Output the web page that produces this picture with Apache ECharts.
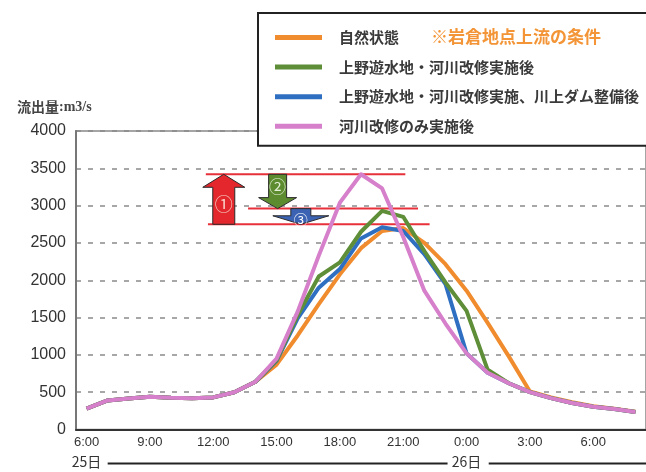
<!DOCTYPE html>
<html>
<head>
<meta charset="utf-8">
<script src="https://cdn.jsdelivr.net/npm/echarts@6/dist/echarts.min.js"></script>
<style>
  html, body { margin: 0; padding: 0; background: #fff; }
  #the-chart { width: 646px; height: 472px; }
</style>
</head>
<body>
<div id="the-chart"></div>
<script>
/**
 * 岩倉地点 流出量ハイドログラフ
 */
// 時刻（25日 6:00 〜 26日 8:00、1時間ごと）
const hours = [
  "6:00", "7:00", "8:00", "9:00", "10:00", "11:00", "12:00", "13:00", "14:00",
  "15:00", "16:00", "17:00", "18:00", "19:00", "20:00", "21:00", "22:00", "23:00",
  "0:00", "1:00", "2:00", "3:00", "4:00", "5:00", "6:00", "7:00", "8:00",
];

const seriesNames = [
  "自然状態",
  "上野遊水地・河川改修実施後",
  "上野遊水地・河川改修実施、川上ダム整備後",
  "河川改修のみ実施後",
];

// 自然状態
const natural = [
  280, 390, 415, 440, 425, 420, 430, 500, 640,
  870, 1260, 1680, 2080, 2430, 2660, 2700, 2500, 2215,
  1860, 1430, 980, 510, 430, 365, 312, 278, 237,
];
// 上野遊水地・河川改修実施後
const uenoRiver = [
  280, 390, 415, 440, 425, 420, 430, 500, 640,
  930, 1530, 2050, 2240, 2650, 2930, 2850, 2390, 1970,
  1590, 800, 620, 500, 420, 355, 305, 275, 235,
];
// 上野遊水地・河川改修実施、川上ダム整備後
const uenoRiverDam = [
  280, 390, 415, 440, 425, 420, 430, 500, 640,
  920, 1490, 1900, 2150, 2560, 2710, 2660, 2350, 1950,
  1020, 760, 620, 500, 420, 355, 305, 275, 235,
];
// 河川改修のみ実施後
const riverOnly = [
  280, 390, 415, 440, 425, 420, 430, 500, 640,
  950, 1580, 2330, 3040, 3420, 3230, 2580, 1860, 1420,
  1020, 760, 620, 500, 420, 355, 305, 275, 235,
];

// y軸目盛
const yMax = 4000;
const yStep = 500;

// ピーク流量の基準線（x は時間軸上の位置、0 = 左端）
const refLevels = [3420, 2960, 2750];
const refFrom = [6.15, 8.15, 6.25];
const refTo = [15.6, 16.2, 16.75];

// ①②③の矢印
const arrowX = [7.0, 9.55, 10.65];
const arrowFrom = [2750, 3420, 2960];
const arrowTo = [3420, 2960, 2750];
const arrowLabels = ["①", "②", "③"];

// 日付
const dayLabels = ["25日", "26日"];
const dayIndex = [0, 18];
const dayLineFrom = [1.5, 19.55];
const dayLineTo = [17.6, 27];

// 矢印の形（px）
const arrowShapes = [
  { color: "#e3272c", shaft: 22, headW: 42, head: 13, labelAt: 0.4, font: 18, text: "#f9d2c8" },
  { color: "#5d8b30", shaft: 18, headW: 38, head: 11, labelAt: 0.37, font: 17, text: "#e2efd5" },
  { color: "#3c63b3", shaft: 20, headW: 56, head: 8.5, labelAt: 0.68, font: 14, text: "#ffffff" },
];
const lineColors = ["#f08c2e", "#5e8e38", "#2f6fc2", "#d67fca"];

const jpFont = "'Noto Sans CJK JP', sans-serif";
const numFont = "'Liberation Sans', Arial, sans-serif";

let chartEL = document.getElementById("the-chart");
let myChart = echarts.init(chartEL);

function renderRefLine(params, api) {
  let p1 = api.coord([api.value(0), api.value(2)]);
  let p2 = api.coord([api.value(1), api.value(2)]);
  return {
    type: "line",
    shape: { x1: p1[0], y1: p1[1], x2: p2[0], y2: p2[1] },
    style: { stroke: "#e8303a", lineWidth: 2 },
  };
}

function renderArrow(params, api) {
  let s = arrowShapes[params.dataIndex];
  let tail = api.coord([api.value(0), api.value(1)]);
  let tip = api.coord([api.value(0), api.value(2)]);
  let cx = tail[0];
  // 上向きなら -1
  let dir = tip[1] < tail[1] ? -1 : 1;
  let baseY = tip[1] - dir * s.head;
  let points = [
    [cx - s.shaft / 2, tail[1]],
    [cx - s.shaft / 2, baseY],
    [cx - s.headW / 2, baseY],
    [cx, tip[1]],
    [cx + s.headW / 2, baseY],
    [cx + s.shaft / 2, baseY],
    [cx + s.shaft / 2, tail[1]],
  ];
  return {
    type: "group",
    children: [
      {
        type: "polygon",
        shape: { points: points },
        style: { fill: s.color, stroke: "#2b2b2b", lineWidth: 1 },
      },
      {
        type: "text",
        x: cx,
        y: tail[1] + (tip[1] - tail[1]) * s.labelAt,
        style: {
          text: arrowLabels[params.dataIndex],
          fill: s.text,
          font: s.font + "px " + jpFont,
          align: "center",
          verticalAlign: "middle",
        },
      },
    ],
  };
}

function renderDayLine(params, api) {
  let p1 = api.coord([api.value(0), 0]);
  let p2 = api.coord([api.value(1), 0]);
  let y = p1[1] + 34;
  return {
    type: "line",
    shape: { x1: p1[0], y1: y, x2: p2[0], y2: y },
    style: { stroke: "#222", lineWidth: 2 },
  };
}

let lineData = [natural, uenoRiver, uenoRiverDam, riverOnly];
// 描画順：橙 → 青 → 緑 → ピンク（ピンクが一番上）
let drawOrder = [0, 2, 1, 3];

let lineSeries = drawOrder.map((k) => ({
  name: seriesNames[k],
  type: "line",
  xAxisIndex: 0,
  yAxisIndex: 0,
  data: lineData[k],
  symbol: "none",
  color: lineColors[k],
  lineStyle: { width: 4, color: lineColors[k], join: "round" },
  animation: false,
}));

let option = {
  animation: false,
  textStyle: { fontFamily: numFont },
  title: {
    left: 12,
    top: 95,
    text: "{a|流出量}{b|:m3/s}",
    textStyle: {
      rich: {
        a: { fontFamily: jpFont, fontSize: 14, fontWeight: "bold", color: "#444" },
        b: { fontFamily: "'Liberation Serif', serif", fontSize: 14, color: "#444" },
      },
    },
  },
  legend: {
    orient: "vertical",
    left: 258,
    top: 13,
    padding: [17, 24, 12, 17],
    itemWidth: 47,
    itemHeight: 5,
    itemGap: 14.6,
    icon: "rect",
    backgroundColor: "#fff",
    borderColor: "#222",
    borderWidth: 2,
    selectedMode: false,
    textStyle: {
      fontFamily: jpFont,
      fontSize: 15,
      fontWeight: "bold",
      color: "#3a3a3a",
      padding: [0, 0, 0, 12],
    },
    data: seriesNames,
    z: 10,
  },
  graphic: [
    {
      type: "text",
      left: 431,
      top: 28,
      z: 20,
      style: {
        text: "※岩倉地点上流の条件",
        fill: "#f39436",
        font: "bold 17px " + jpFont,
      },
    },
  ],
  grid: {
    left: 76,
    right: -8,
    top: 131,
    bottom: 42.5,
    show: true,
    borderColor: "#888",
    borderWidth: 1.5,
  },
  xAxis: [
    {
      type: "category",
      data: hours,
      boundaryGap: true,
      axisLine: { lineStyle: { color: "#333", width: 2 } },
      axisTick: {
        inside: true,
        length: 6,
        interval: 0,
        lineStyle: { color: "#333", width: 2 },
      },
      axisLabel: { interval: 2, fontSize: 13, color: "#333", margin: 6 },
      splitLine: { show: false },
    },
    {
      // 注記用（0 = 左端、1 = 1時間）
      type: "value",
      min: 0,
      max: hours.length,
      show: false,
    },
    {
      // 日付
      type: "category",
      data: hours,
      position: "bottom",
      offset: 22,
      axisLine: { show: false },
      axisTick: { show: false },
      axisLabel: {
        interval: 0,
        fontSize: 14,
        color: "#333",
        fontFamily: jpFont,
        margin: 3,
        formatter: (v, idx) => {
          let k = dayIndex.indexOf(idx);
          return k >= 0 ? dayLabels[k] : "";
        },
      },
    },
  ],
  yAxis: {
    type: "value",
    min: 0,
    max: yMax,
    interval: yStep,
    axisLine: { show: true, lineStyle: { color: "#777", width: 2 } },
    axisTick: { show: false },
    axisLabel: {
      fontSize: 16,
      color: "#333",
      margin: 10,
      formatter: (v) => String(v),
    },
    splitLine: {
      lineStyle: { type: [5, 7], color: "#8a8a8a", width: 1.5 },
    },
  },
  series: [
    {
      type: "custom",
      name: "refLines",
      xAxisIndex: 1,
      yAxisIndex: 0,
      clip: false,
      renderItem: renderRefLine,
      encode: { x: [0, 1], y: 2 },
      data: refLevels.map((v, i) => [refFrom[i], refTo[i], v]),
    },
    {
      type: "custom",
      name: "arrows",
      xAxisIndex: 1,
      yAxisIndex: 0,
      clip: false,
      renderItem: renderArrow,
      encode: { x: 0, y: [1, 2] },
      data: arrowX.map((x, i) => [x, arrowFrom[i], arrowTo[i]]),
    },
    {
      type: "custom",
      name: "dayLines",
      xAxisIndex: 1,
      yAxisIndex: 0,
      clip: false,
      renderItem: renderDayLine,
      encode: { x: [0, 1] },
      data: dayLineFrom.map((x, i) => [x, dayLineTo[i]]),
    },
    ...lineSeries,
  ],
};

// 画図
option && myChart.setOption(option);
</script>
</body>
</html>
